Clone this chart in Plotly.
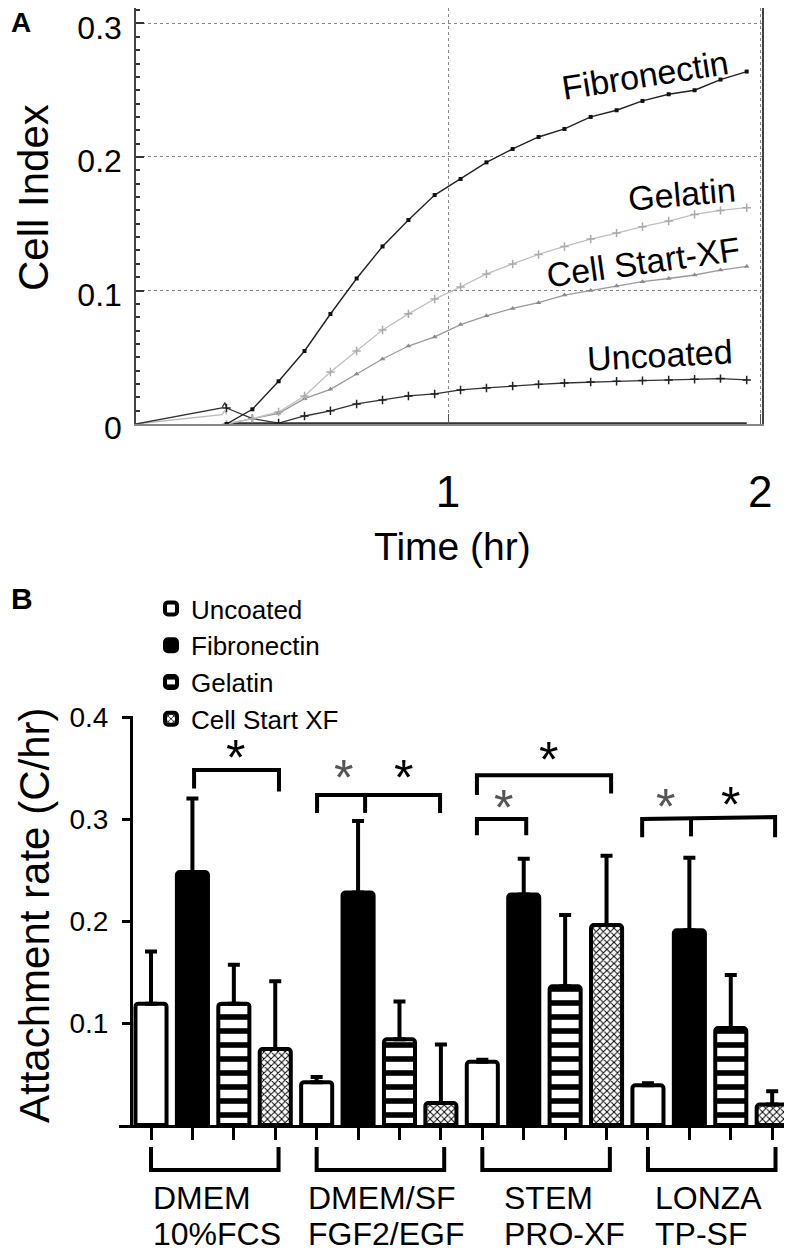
import plotly.graph_objects as go

# ---------------- Panel A data ----------------
time_hr = [0.29, 0.373, 0.457, 0.54, 0.623, 0.707, 0.79, 0.873, 0.957, 1.04, 1.123,
           1.207, 1.29, 1.373, 1.457, 1.54, 1.623, 1.707, 1.79, 1.873, 1.957]
ci_fibronectin = [0.0, 0.011, 0.032, 0.0547, 0.0824, 0.109, 0.133, 0.1528, 0.1715, 0.1835, 0.196,
                  0.206, 0.215, 0.221, 0.230, 0.235, 0.242, 0.247, 0.250, 0.258, 0.264]
ci_gelatin = [0.0, 0.004, 0.009, 0.021, 0.039, 0.0547, 0.0704, 0.0825, 0.0936, 0.1026, 0.1124,
              0.1199, 0.127, 0.133, 0.1385, 0.143, 0.1478, 0.152, 0.157, 0.160, 0.162]
ci_cellstart = [0.0, 0.004, 0.008, 0.019, 0.026, 0.0375, 0.0487, 0.0584, 0.0652, 0.0745, 0.081,
                0.0866, 0.0909, 0.0966, 0.100, 0.1034, 0.1066, 0.109, 0.1116, 0.1153, 0.118]
ci_uncoated = [0.012, 0.004, 0.0007, 0.006, 0.0099, 0.015, 0.018, 0.021, 0.0225, 0.0255, 0.027,
               0.0285, 0.0297, 0.0307, 0.0315, 0.032, 0.0325, 0.033, 0.0335, 0.034, 0.033]
ci_background = [0.0, 0.0, 0.0, 0.0, 0.0, 0.0, 0.0, 0.0, 0.0, 0.0, 0.0,
                 0.0, 0.0, 0.0, 0.0, 0.0, 0.0, 0.0, 0.0, 0.0, 0.0]
# pre-measurement baseline segments
pre_time = [0.0, 0.275, 0.285, 0.29]
pre_dark = [0.0, 0.012, 0.016, 0.012]
pre_light = [0.0, 0.007, 0.010, 0.007]

curve_labels = ["Fibronectin", "Gelatin", "Cell Start-XF", "Uncoated"]
curve_label_x = [1.631, 1.75, 1.625, 1.68]
curve_label_y = [0.2614, 0.172, 0.121, 0.0517]
curve_label_angle = [-9, -5, -8, -3]

# ---------------- Panel B data ----------------
coatings = ["Uncoated", "Fibronectin", "Gelatin", "Cell Start XF"]
media_line1 = ["DMEM", "DMEM/SF", "STEM", "LONZA"]
media_line2 = ["10%FCS", "FGF2/EGF", "PRO-XF", "TP-SF"]
rate_uncoated = [0.119, 0.042, 0.062, 0.039]
rate_fibronectin = [0.248, 0.228, 0.226, 0.191]
rate_gelatin = [0.119, 0.084, 0.136, 0.095]
rate_cellstart = [0.0745, 0.0216, 0.196, 0.020]
top_uncoated = [0.170, 0.047, 0.064, 0.041]
top_fibronectin = [0.320, 0.298, 0.261, 0.262]
top_gelatin = [0.157, 0.121, 0.206, 0.147]
top_cellstart = [0.141, 0.079, 0.264, 0.033]

# significance annotations (bar-axis units)
star_x = [2.05, 4.64, 6.09, 9.59, 8.50, 12.42, 13.99]
star_y = [0.370, 0.350, 0.350, 0.368, 0.321, 0.322, 0.3235]
star_gray = [False, True, False, False, True, True, False]
brackets = [
    [(1.04, 0.330), (1.04, 0.348), (3.09, 0.348), (3.09, 0.327)],
    [(4.01, 0.306), (4.01, 0.3235), (6.98, 0.3235), (6.98, 0.306)],
    [(5.17, 0.3235), (5.17, 0.306)],
    [(7.87, 0.3235), (7.87, 0.343), (11.11, 0.343), (11.11, 0.325)],
    [(7.87, 0.284), (7.87, 0.300), (9.06, 0.300), (9.06, 0.284)],
    [(11.86, 0.282), (11.86, 0.300), (15.07, 0.302), (15.07, 0.282)],
    [(13.04, 0.301), (13.04, 0.283)],
]
media_label_x = [0.0, 3.74, 8.48, 12.13]

# The page body adds an 8px margin; lay out in page pixels and convert.
OFF = 8
W, H = 784, 1245


def px(x):
    return (x - OFF) / W


def py(y):
    return 1 - (y - OFF) / H


FONT = "Liberation Sans, Arial, sans-serif"

fig = go.Figure()

# ---- Panel A traces ----
fig.add_trace(go.Scatter(x=pre_time, y=pre_light, mode="lines", line=dict(color="#bbbbbb", width=1.3),
                         showlegend=False, xaxis="x", yaxis="y"))
fig.add_trace(go.Scatter(x=pre_time, y=pre_dark, mode="lines", line=dict(color="#333333", width=1.3),
                         showlegend=False, xaxis="x", yaxis="y"))
fig.add_trace(go.Scatter(x=time_hr, y=ci_background, mode="lines",
                         line=dict(color="#333333", width=3.5),
                         showlegend=False, xaxis="x", yaxis="y"))
fig.add_trace(go.Scatter(x=time_hr, y=ci_uncoated, mode="lines+markers",
                         line=dict(color="#333333", width=1.3),
                         marker=dict(symbol="cross-thin", size=6, line=dict(color="#222222", width=1.5)),
                         showlegend=False, xaxis="x", yaxis="y"))
fig.add_trace(go.Scatter(x=time_hr, y=ci_cellstart, mode="lines+markers",
                         line=dict(color="#9a9a9a", width=1.3),
                         marker=dict(symbol="triangle-up", size=5, color="#8a8a8a"),
                         showlegend=False, xaxis="x", yaxis="y"))
fig.add_trace(go.Scatter(x=time_hr, y=ci_gelatin, mode="lines+markers",
                         line=dict(color="#c0c0c0", width=1.3),
                         marker=dict(symbol="cross-thin", size=6, line=dict(color="#aaaaaa", width=1.5)),
                         showlegend=False, xaxis="x", yaxis="y"))
fig.add_trace(go.Scatter(x=time_hr, y=ci_fibronectin, mode="lines+markers",
                         line=dict(color="#222222", width=1.4),
                         marker=dict(symbol="square", size=4, color="#111111"),
                         showlegend=False, xaxis="x", yaxis="y"))

# ---- Panel B traces ----
series = [
    (coatings[0], rate_uncoated, top_uncoated, "white", None),
    (coatings[1], rate_fibronectin, top_fibronectin, "black", None),
    (coatings[2], rate_gelatin, top_gelatin, "white",
     dict(shape="-", fgcolor="black", fgopacity=1, size=14, solidity=0.4, fillmode="overlay")),
    (coatings[3], rate_cellstart, top_cellstart, "white",
     dict(shape="x", fgcolor="black", fgopacity=1, size=5, solidity=0.35, fillmode="overlay")),
]
for k, (name, vals, tops, color, pattern) in enumerate(series):
    xs = [g * 4 + k for g in range(4)]
    marker = dict(color=color, line=dict(color="black", width=4), cornerradius=3)
    if pattern:
        marker["pattern"] = pattern
    fig.add_trace(go.Bar(
        x=xs, y=vals, name=name, width=0.75, marker=marker,
        error_y=dict(type="data", symmetric=False,
                     array=[t - v for t, v in zip(tops, vals)],
                     arrayminus=[0] * len(vals),
                     color="black", thickness=4, width=6),
        xaxis="x2", yaxis="y2", showlegend=True))

shapes = []
for br in brackets:
    path = "M" + " L".join(f"{x},{y}" for x, y in br)
    shapes.append(dict(type="path", path=path, xref="x2", yref="y2",
                       line=dict(color="black", width=4)))
# group brackets under the axis
y_top = py(1147)
y_bot = py(1170)
for g in range(4):
    x0, x1 = g * 4, g * 4 + 3.08
    shapes.append(dict(type="path", xref="x2", yref="paper",
                       path=f"M{x0},{y_top} L{x0},{y_bot} L{x1},{y_bot} L{x1},{y_top}",
                       line=dict(color="black", width=4)))

annotations = []
for txt, x, y, a in zip(curve_labels, curve_label_x, curve_label_y, curve_label_angle):
    annotations.append(dict(text=txt, x=x, y=y, xref="x", yref="y", showarrow=False,
                            xanchor="center", yanchor="middle",
                            textangle=a, font=dict(family=FONT, size=34, color="black")))
for x, y, gray in zip(star_x, star_y, star_gray):
    # compact box around the asterisk glyph (which sits high in its line box)
    annotations.append(dict(text="*", x=x, y=y, xref="x2", yref="y2", showarrow=False,
                            xanchor="center", yanchor="middle", height=30, valign="top",
                            yshift=3, font=dict(family=FONT, size=50,
                                                color="#555555" if gray else "black")))
for x, l1, l2 in zip(media_label_x, media_line1, media_line2):
    annotations.append(dict(text=l1, x=x, y=py(1198), xref="x2", yref="paper", xanchor="left",
                            yanchor="middle", showarrow=False,
                            font=dict(family=FONT, size=32, color="black")))
    annotations.append(dict(text=l2, x=x, y=py(1234), xref="x2", yref="paper", xanchor="left",
                            yanchor="middle", showarrow=False,
                            font=dict(family=FONT, size=32, color="black")))
# panel letters and axis titles
annotations += [
    dict(text="<b>A</b>", x=px(9), y=py(22), xref="paper", yref="paper", xanchor="left",
         yanchor="middle", showarrow=False, font=dict(family=FONT, size=28, color="black")),
    dict(text="<b>B</b>", x=px(9), y=py(598), xref="paper", yref="paper", xanchor="left",
         yanchor="middle", showarrow=False, font=dict(family=FONT, size=30, color="black")),
    dict(text="Cell Index", x=px(33), y=py(198), xref="paper", yref="paper", textangle=-90,
         xanchor="center", yanchor="middle",
         showarrow=False, font=dict(family=FONT, size=42, color="black")),
    dict(text="Time (hr)", x=px(452), y=py(546), xref="paper", yref="paper",
         xanchor="center", yanchor="middle",
         showarrow=False, font=dict(family=FONT, size=39, color="black")),
    dict(text="Attachment rate (C/hr)", x=px(34), y=py(916), xref="paper", yref="paper",
         xanchor="center", yanchor="middle",
         textangle=-90, showarrow=False, font=dict(family=FONT, size=42, color="black")),
]

fig.update_layout(
    width=W, height=H, margin=dict(l=0, r=0, t=0, b=0, pad=0, autoexpand=False),
    paper_bgcolor="white", plot_bgcolor="white",
    font=dict(family=FONT, color="black"),
    barmode="overlay",
    shapes=shapes, annotations=annotations,
    legend=dict(x=px(151), y=py(585), xanchor="left", yanchor="top",
                font=dict(family=FONT, size=26, color="black"), bgcolor="rgba(0,0,0,0)"),
    xaxis=dict(domain=[px(136), px(762)], range=[0, 2.006], anchor="y",
               tickvals=[1, 2], ticktext=["1", "2"], ticks="inside", ticklen=10, tickcolor="#555",
               ticklabelstandoff=28, ticklabeloverflow="allow",
               tickfont=dict(family=FONT, size=44), showgrid=True, gridcolor="#888",
               griddash="dot", gridwidth=1, zeroline=False, showline=True, linecolor="#888",
               linewidth=1.5, mirror=True),
    yaxis=dict(domain=[py(424), py(8)], range=[0, 0.3116], anchor="x",
               tickvals=[0, 0.1, 0.2, 0.3], ticktext=["0", "0.1", "0.2", "0.3"],
               ticks="inside", ticklen=8, tickcolor="#333", tickwidth=1.5, ticklabelstandoff=6,
               ticklabeloverflow="allow", ticklabelshift=4,
               minor=dict(dtick=0.01, ticks="inside", ticklen=4, tickcolor="#333", showgrid=False),
               tickfont=dict(family=FONT, size=32), showgrid=True, gridcolor="#888",
               griddash="dot", gridwidth=1, zeroline=False, showline=True, linecolor="#444",
               linewidth=1.5, mirror=True),
    xaxis2=dict(domain=[px(119), px(790)], range=[-0.773, 15.43], anchor="y2",
                tickvals=list(range(16)), ticks="outside", ticklen=12, tickwidth=3, tickcolor="black",
                showticklabels=False, showgrid=False, zeroline=False, showline=True,
                linecolor="black", linewidth=3),
    yaxis2=dict(domain=[py(1125), py(716)], range=[0, 0.401], anchor="free",
                position=px(131), tickvals=[0.1, 0.2, 0.3, 0.4],
                ticktext=["0.1", "0.2", "0.3", "0.4"], ticks="outside", ticklen=8, tickwidth=3,
                ticklabelstandoff=8,
                tickcolor="black", tickfont=dict(family=FONT, size=28), showgrid=False,
                zeroline=False, showline=True, linecolor="black", linewidth=3),
)

fig.write_html("out.html")
